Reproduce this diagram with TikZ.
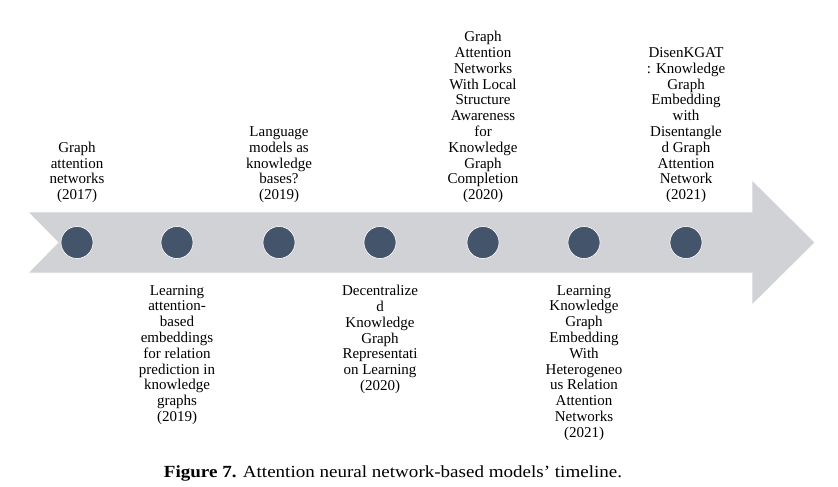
\documentclass[tikz,border=0pt]{standalone}
\usepackage{fontspec}
\setmainfont{Liberation Serif}
\newfontfamily\capfont{Liberation Serif}[FakeStretch=1.12]
\begin{document}
\definecolor{bandgray}{RGB}{209,210,214}
\definecolor{dotblue}{RGB}{68,84,106}
\tikzset{
  event/.style={align=center, inner sep=0pt, font=\fontsize{15}{15.8}\selectfont},
  above event/.style={event, anchor=south},
  below event/.style={event, anchor=north},
  dot/.style={circle, fill=dotblue, draw=white, line width=0.6pt, minimum width=31pt, minimum height=32pt, inner sep=0pt},
  band/.style={fill=bandgray, draw=white!92!bandgray, line width=0.8pt}
}
\begin{tikzpicture}[x=1pt, y=-1pt]
  \useasboundingbox (0,0) rectangle (838,487);
  % timeline arrow
  \path[band] (28,212) -- (752,212) -- (752,180) -- (815,242.5) -- (752,305)
    -- (752,273) -- (28,273) -- (58,242.5) -- cycle;
  % milestones on the arrow
  \foreach \i/\x in {1/77, 2/177, 3/279, 4/380, 5/483, 6/584, 7/686}
    \node[dot] (m\i) at (\x,242.5) {};
  % labels above the arrow
  \node[above event] (t1) at (77,203) {Graph\\attention\\networks\\(2017)};
  \node[above event] (t3) at (279,203) {Language\\models as\\knowledge\\bases?\\(2019)};
  \node[above event] (t5) at (483,203) {Graph\\Attention\\Networks\\With Local\\Structure\\Awareness\\for\\Knowledge\\Graph\\Completion\\(2020)};
  \node[above event] (t7) at (686,203) {DisenKGAT\\: Knowledge\\Graph\\Embedding\\with\\Disentangle\\d Graph\\Attention\\Network\\(2021)};
  % labels below the arrow
  \node[below event] (b2) at (177,285) {Learning\\attention-\\based\\embeddings\\for relation\\prediction in\\knowledge\\graphs\\(2019)};
  \node[below event] (b4) at (380,285) {Decentralize\\d\\Knowledge\\Graph\\Representati\\on Learning\\(2020)};
  \node[below event] (b6) at (584,285) {Learning\\Knowledge\\Graph\\Embedding\\With\\Heterogeneo\\us Relation\\Attention\\Networks\\(2021)};
  % caption
  \node[inner sep=0pt, font=\capfont\fontsize{17}{20}\selectfont] (cap) at (393,473)
    {\textbf{Figure 7.} Attention neural network-based models’ timeline.};
\end{tikzpicture}
\end{document}
